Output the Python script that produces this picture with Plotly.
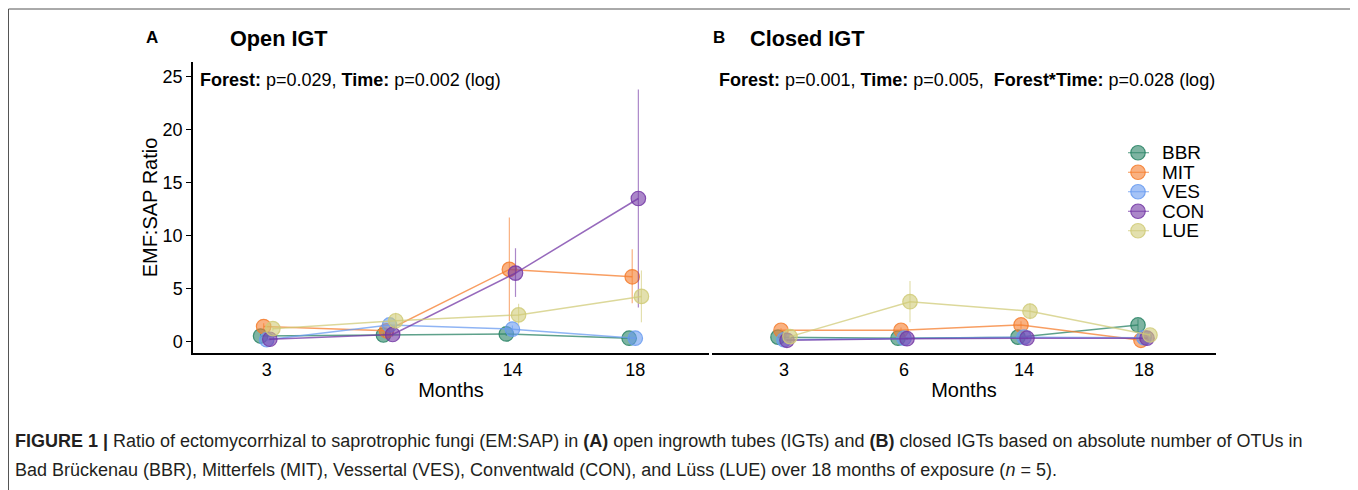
import plotly.graph_objects as go

# ---------------- data ----------------
months = ["3", "6", "14", "18"]
forests = ["BBR", "MIT", "VES", "CON", "LUE"]

# Panel A: Open IGT (mean, upper, lower)
open_bbr = [0.5, 0.6, 0.7, 0.3]
open_bbr_hi = [0.7, 0.8, 0.9, 0.45]
open_bbr_lo = [0.3, 0.4, 0.5, 0.15]
open_mit = [1.4, 1.0, 6.8, 6.1]
open_mit_hi = [1.7, 1.3, 11.7, 8.7]
open_mit_lo = [1.1, 0.7, 1.9, 3.6]
open_ves = [0.15, 1.55, 1.15, 0.3]
open_ves_hi = [0.3, 1.9, 1.5, 0.45]
open_ves_lo = [0.05, 1.2, 0.8, 0.15]
open_con = [0.2, 0.65, 6.45, 13.5]
open_con_hi = [0.3, 0.85, 8.8, 23.8]
open_con_lo = [0.1, 0.45, 4.2, 3.2]
open_lue = [1.2, 1.95, 2.5, 4.25]
open_lue_hi = [1.4, 2.7, 3.55, 6.7]
open_lue_lo = [1.0, 1.2, 1.5, 1.8]

# Panel B: Closed IGT
closed_bbr = [0.4, 0.3, 0.4, 1.55]
closed_bbr_hi = [0.5, 0.4, 0.5, 2.1]
closed_bbr_lo = [0.3, 0.2, 0.3, 1.0]
closed_mit = [1.05, 1.05, 1.55, 0.1]
closed_mit_hi = [1.25, 1.3, 1.9, 0.2]
closed_mit_lo = [0.85, 0.8, 1.2, 0.02]
closed_ves = [0.15, 0.3, 0.4, 0.35]
closed_ves_hi = [0.25, 0.4, 0.5, 0.45]
closed_ves_lo = [0.05, 0.2, 0.3, 0.25]
closed_con = [0.1, 0.25, 0.3, 0.3]
closed_con_hi = [0.2, 0.35, 0.4, 0.4]
closed_con_lo = [0.03, 0.15, 0.2, 0.2]
closed_lue = [0.45, 3.75, 2.85, 0.6]
closed_lue_hi = [0.6, 5.7, 3.6, 0.8]
closed_lue_lo = [0.3, 1.8, 2.1, 0.4]

y_ticks = [0, 5, 10, 15, 20, 25]

# ---------------- styles ----------------
colors = {
    "BBR": (40, 130, 100),
    "MIT": (245, 125, 45),
    "VES": (105, 155, 240),
    "CON": (115, 55, 165),
    "LUE": (208, 203, 120),
}
dodge = {"BBR": -0.05, "MIT": -0.025, "VES": 0.0, "CON": 0.025, "LUE": 0.05}

open_data = {
    "BBR": (open_bbr, open_bbr_hi, open_bbr_lo),
    "MIT": (open_mit, open_mit_hi, open_mit_lo),
    "VES": (open_ves, open_ves_hi, open_ves_lo),
    "CON": (open_con, open_con_hi, open_con_lo),
    "LUE": (open_lue, open_lue_hi, open_lue_lo),
}
closed_data = {
    "BBR": (closed_bbr, closed_bbr_hi, closed_bbr_lo),
    "MIT": (closed_mit, closed_mit_hi, closed_mit_lo),
    "VES": (closed_ves, closed_ves_hi, closed_ves_lo),
    "CON": (closed_con, closed_con_hi, closed_con_lo),
    "LUE": (closed_lue, closed_lue_hi, closed_lue_lo),
}

# page body has an 8px margin: figure drawn at (8, 8)
OFF = 8
W, H = 1350, 482
FONT = "Liberation Sans, Arial, sans-serif"


def px_x(p):
    return (p - OFF) / W


def px_y(p):
    return 1 - (p - OFF) / H


def rgba(c, a):
    return f"rgba({c[0]},{c[1]},{c[2]},{a})"


def marker_style(c):
    return dict(size=14.5, color=rgba(c, 0.6), line=dict(color=rgba(c, 0.85), width=1.2))


fig = go.Figure()

for data, xa, ya in [(open_data, "x", "y"), (closed_data, "x2", "y2")]:
    for f in forests:
        mean, hi, lo = data[f]
        c = colors[f]
        xs = [i + dodge[f] for i in range(len(months))]
        fig.add_trace(
            go.Scatter(
                x=xs,
                y=mean,
                mode="lines+markers",
                name=f,
                showlegend=False,
                xaxis=xa,
                yaxis=ya,
                line=dict(color=rgba(c, 0.75), width=1.5),
                marker=marker_style(c),
                error_y=dict(
                    type="data",
                    symmetric=False,
                    array=[h - m for h, m in zip(hi, mean)],
                    arrayminus=[m - l for m, l in zip(mean, lo)],
                    color=rgba(c, 0.6),
                    thickness=1.2,
                    width=0,
                ),
            )
        )

# legend keys (drawn on a hidden helper axis)
for f in forests:
    c = colors[f]
    fig.add_trace(
        go.Scatter(
            x=[0], y=[f], mode="markers", name=f, showlegend=False,
            xaxis="x3", yaxis="y3",
            marker=marker_style(c),
            error_x=dict(type="constant", value=1.1, width=0, color=rgba(c, 0.8), thickness=1.2),
            error_y=dict(type="constant", value=0.3, width=0, color=rgba(c, 0.8), thickness=1.2),
            hoverinfo="skip",
        )
    )
    fig.add_annotation(
        x=2.2, y=f, xref="x3", yref="y3", text=f, showarrow=False,
        xanchor="left", yanchor="middle",
        font=dict(size=19, color="black", family=FONT),
    )

xr = [-0.6, 3.6]
yr = [-1.1, 26.4]
ydom = [px_y(353), px_y(62)]

common_x = dict(
    tickmode="array",
    tickvals=list(range(len(months))),
    ticktext=months,
    range=xr,
    showgrid=False,
    zeroline=False,
    showline=True,
    linecolor="black",
    linewidth=1.5,
    ticks="",
    tickfont=dict(size=18, color="black", family=FONT),
    title=dict(text="Months", font=dict(size=20, color="black", family=FONT), standoff=4),
)

fig.update_layout(
    width=W,
    height=H,
    margin=dict(l=0, r=0, t=0, b=0),
    paper_bgcolor="white",
    plot_bgcolor="white",
    font=dict(family=FONT, color="black"),
    showlegend=False,
    xaxis=dict(domain=[px_x(193), px_x(709)], anchor="y", **common_x),
    xaxis2=dict(domain=[px_x(712), px_x(1216)], anchor="y2", **common_x),
    yaxis=dict(
        domain=ydom,
        range=yr,
        tickvals=y_ticks,
        showgrid=False,
        zeroline=False,
        showline=True,
        linecolor="black",
        linewidth=1.5,
        ticks="outside",
        ticklen=5,
        tickwidth=1.2,
        tickcolor="black",
        tickfont=dict(size=18, color="black", family=FONT),
        title=dict(text="EMF:SAP Ratio", font=dict(size=20, color="black", family=FONT), standoff=0),
        anchor="x",
    ),
    yaxis2=dict(
        domain=ydom, range=yr, showgrid=False, zeroline=False,
        showline=False, showticklabels=False, ticks="", anchor="x2",
    ),
    xaxis3=dict(
        domain=[px_x(1128), px_x(1248)], range=[-1, 11], visible=False, anchor="y3",
    ),
    yaxis3=dict(
        domain=[px_y(240.5), px_y(143)], type="category",
        categoryorder="array", categoryarray=forests,
        range=[4.5, -0.5], visible=False, anchor="x3",
    ),
)

ann = [
    dict(x=px_x(152), y=px_y(37), text="<b>A</b>", font=dict(size=17)),
    dict(x=px_x(279), y=px_y(39), text="<b>Open IGT</b>", font=dict(size=21.7)),
    dict(x=px_x(719), y=px_y(37), text="<b>B</b>", font=dict(size=17)),
    dict(x=px_x(807), y=px_y(39), text="<b>Closed IGT</b>", font=dict(size=21.7)),
]
for a in ann:
    a.update(xref="paper", yref="paper", showarrow=False, xanchor="center", yanchor="middle")
    a["font"].update(color="black", family=FONT)
    fig.add_annotation(**a)

fig.add_annotation(
    x=px_x(198), y=px_y(80), xref="paper", yref="paper", showarrow=False,
    xanchor="left", yanchor="middle",
    text="<b>Forest:</b> p=0.029, <b>Time:</b> p=0.002 (log)",
    font=dict(size=18, color="black", family=FONT),
)
fig.add_annotation(
    x=px_x(717), y=px_y(80), xref="paper", yref="paper", showarrow=False,
    xanchor="left", yanchor="middle",
    text="<b>Forest:</b> p=0.001, <b>Time:</b> p=0.005,  <b>Forest*Time:</b> p=0.028 (log)",
    font=dict(size=18, color="black", family=FONT),
)

cap_font = dict(size=18, color="#231F20", family=FONT)
fig.add_annotation(
    x=px_x(13), y=px_y(441), xref="paper", yref="paper", showarrow=False,
    xanchor="left", yanchor="middle",
    text="<b>FIGURE 1 |</b> Ratio of ectomycorrhizal to saprotrophic fungi (EM:SAP) in <b>(A)</b> open ingrowth tubes (IGTs) and <b>(B)</b> closed IGTs based on absolute number of OTUs in",
    font=cap_font,
)
fig.add_annotation(
    x=px_x(13), y=px_y(470), xref="paper", yref="paper", showarrow=False,
    xanchor="left", yanchor="middle",
    text="Bad Brückenau (BBR), Mitterfels (MIT), Vessertal (VES), Conventwald (CON), and Lüss (LUE) over 18 months of exposure (<i>n</i> = 5).",
    font=cap_font,
)

# figure frame (left, top, right)
for x0, y0, x1, y1 in [(8.5, 9, 8.5, 490), (8.5, 9, 1355, 9), (1355, 9, 1355, 490)]:
    fig.add_shape(
        type="line", xref="paper", yref="paper",
        x0=px_x(x0), y0=px_y(y0), x1=px_x(x1), y1=px_y(y1),
        line=dict(color="#555555", width=1),
    )

fig.write_html("out.html")
